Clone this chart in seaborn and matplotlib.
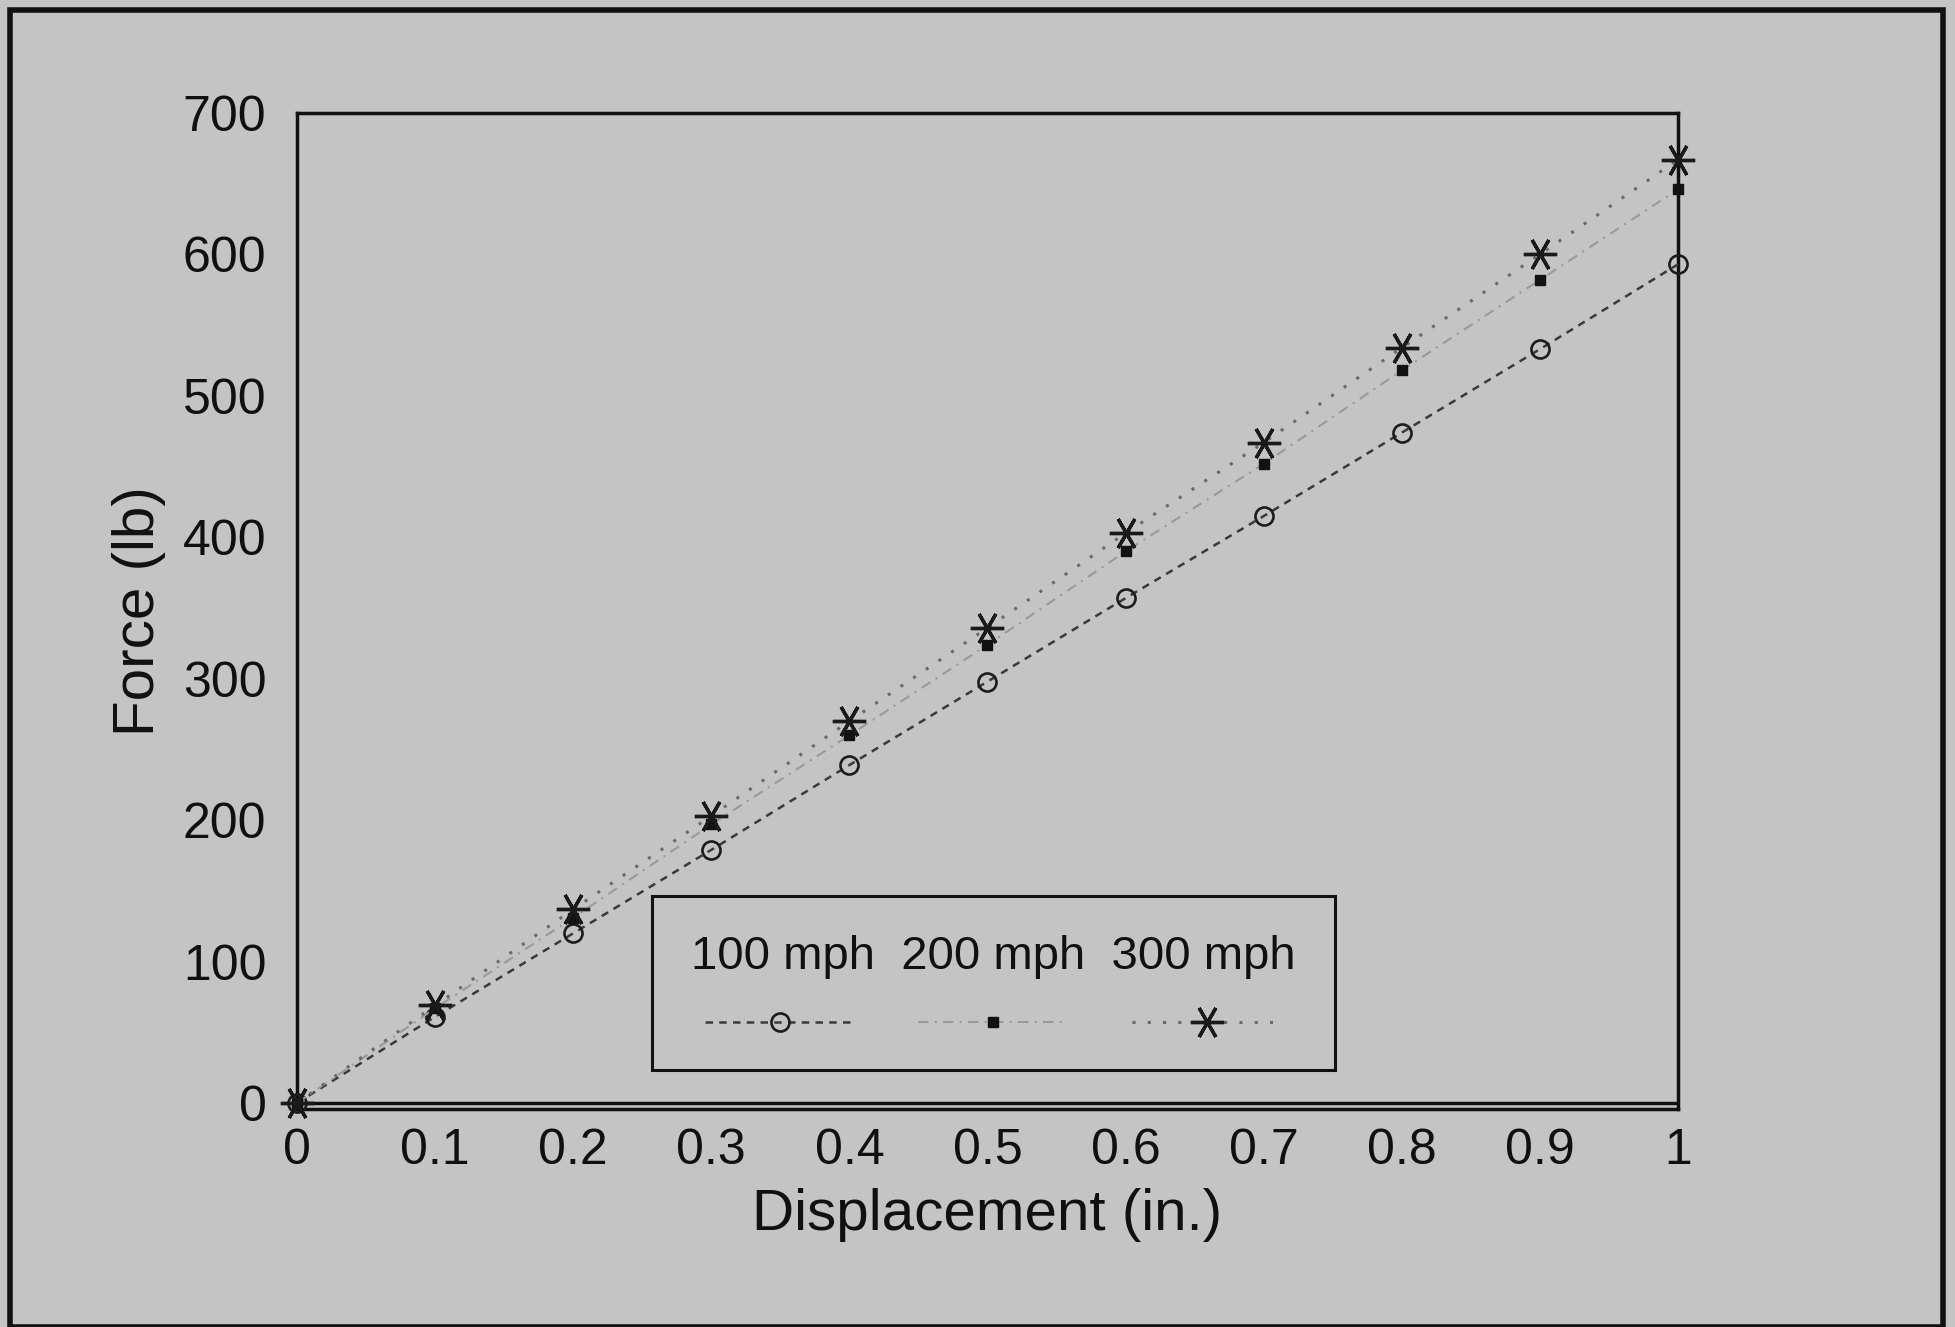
import numpy as np
import pandas as pd
import matplotlib
matplotlib.use("Agg")
import matplotlib.pyplot as plt
import seaborn as sns
from matplotlib.lines import Line2D
from matplotlib.patches import Rectangle

# ---- data ----
displacement = [0, 0.1, 0.2, 0.3, 0.4, 0.5, 0.6, 0.7, 0.8, 0.9, 1.0]
force_100 = [0, 61, 120, 179, 239, 298, 357, 415, 474, 533, 593]
force_200 = [0, 67, 131, 197, 260, 324, 390, 452, 518, 582, 646]
force_300 = [0, 69, 137, 203, 270, 336, 403, 467, 534, 600, 667]
series_names = ["100 mph", "200 mph", "300 mph"]
x_ticks = [0, 0.1, 0.2, 0.3, 0.4, 0.5, 0.6, 0.7, 0.8, 0.9, 1]
x_tick_labels = ["0", "0.1", "0.2", "0.3", "0.4", "0.5", "0.6", "0.7", "0.8", "0.9", "1"]
y_ticks = [0, 100, 200, 300, 400, 500, 600, 700]

df = pd.DataFrame({
    "Displacement": displacement * 3,
    "Force": force_100 + force_200 + force_300,
    "Speed": [s for s in series_names for _ in displacement],
})

BG = "#c4c4c4"
TXT = "#101010"
sns.set_style("white", {"axes.facecolor": BG, "figure.facecolor": BG})
plt.rcParams["font.family"] = ["Liberation Sans", "DejaVu Sans"]

fig = plt.figure(figsize=(19.56, 13.27), dpi=100)
fig.patch.set_facecolor(BG)
ax = fig.add_axes([297 / 1956, 1 - 1109 / 1327, (1678 - 297) / 1956, (1109 - 113) / 1327])
ax.set_facecolor(BG)

line_styles = {
    "100 mph": dict(color="#3a3a3a", ls=(0, (3, 2.5)), lw=1.8, marker="o", ms=13,
                    mfc="none", mec="#1c1c1c", mew=1.9),
    "200 mph": dict(color="#9a9a9a", ls=(0, (5, 3, 1, 3)), lw=1.5, marker="s", ms=7,
                    mfc="#121212", mec="#121212", mew=1),
    "300 mph": dict(color="#6a6a6a", ls=(0, (1, 4)), lw=2.2, marker=(6, 2, 90), ms=24,
                    mfc="#1a1a1a", mec="#1a1a1a", mew=2.4),
}

for name in series_names:
    sub = df[df["Speed"] == name]
    st = line_styles[name]
    sns.lineplot(data=sub, x="Displacement", y="Force", ax=ax, color=st["color"],
                 linestyle=st["ls"], linewidth=st["lw"], marker=st["marker"],
                 markersize=st["ms"], markerfacecolor=st["mfc"],
                 markeredgecolor=st["mec"], markeredgewidth=st["mew"],
                 legend=False, zorder=3, clip_on=False)

ax.axhline(0, color="#111111", lw=2.5, zorder=2)
ax.set_xlim(0, 1)
ax.set_ylim(-4.2, 700)
ax.set_xticks(x_ticks)
ax.set_xticklabels(x_tick_labels)
ax.set_yticks(y_ticks)
ax.tick_params(axis="both", length=0, labelsize=36, colors=TXT)
ax.tick_params(axis="x", pad=14)
ax.tick_params(axis="y", pad=22)
for sp in ax.spines.values():
    sp.set_visible(True)
    sp.set_color("#111111")
    sp.set_linewidth(2.5)

ax.set_xlabel("Displacement (in.)", fontsize=42, color=TXT, labelpad=10)
ax.set_ylabel("Force (lb)", fontsize=42, color=TXT, labelpad=12)

# legend: labels above (title), markers below
handles = []
for name in series_names:
    st = line_styles[name]
    handles.append(Line2D([], [], color=st["color"], linestyle=st["ls"], linewidth=st["lw"],
                          marker=st["marker"], markersize=st["ms"],
                          markerfacecolor=st["mfc"], markeredgecolor=st["mec"],
                          markeredgewidth=st["mew"]))
leg = ax.legend(handles, ["", "", ""], ncol=3, title="100 mph  200 mph  300 mph",
                title_fontsize=34, fontsize=12, loc="upper left",
                bbox_to_anchor=((652 - 297) / 1381, (1109 - 896) / 996),
                frameon=True, fancybox=False, facecolor=BG, edgecolor="#111111",
                framealpha=1, handlelength=9.0, handleheight=0.7, handletextpad=0.0,
                columnspacing=3.8, borderpad=2.35, labelspacing=2.2, borderaxespad=0)
leg.get_frame().set_linewidth(2.2)
leg.get_title().set_color(TXT)

# outer border
fig.patches.append(Rectangle((10 / 1956, 0.0), (1943 - 10) / 1956, 1 - 10 / 1327,
                             transform=fig.transFigure, fill=False, edgecolor="#111111",
                             linewidth=4))

fig.savefig("out.png", dpi=100, facecolor=BG)
